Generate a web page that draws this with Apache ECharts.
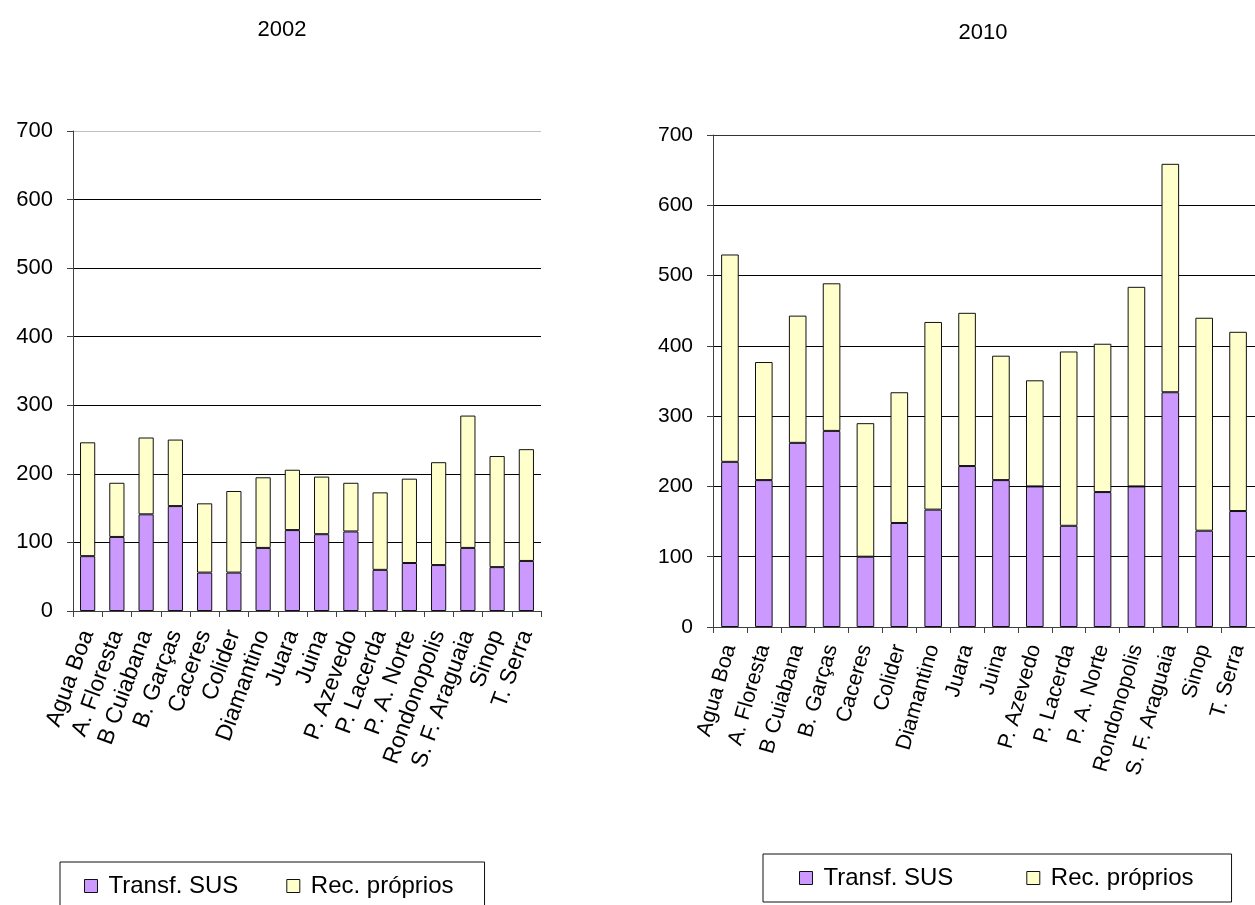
<!DOCTYPE html>
<html>
<head>
<meta charset="utf-8">
<title>Transf. SUS e Rec. próprios — 2002 e 2010</title>
<script src="https://cdn.jsdelivr.net/npm/echarts@6/dist/echarts.min.js"></script>
<style>
  html, body { margin: 0; padding: 0; background: #fff; }
  #chart { width: 1255px; height: 905px; }
</style>
</head>
<body>
<div id="chart"></div>
<script>
// Municípios (eixo de categorias)
const categories = ['Agua Boa', 'A. Floresta', 'B Cuiabana', 'B. Garças', 'Caceres', 'Colider',
  'Diamantino', 'Juara', 'Juina', 'P. Azevedo', 'P. Lacerda', 'P. A. Norte',
  'Rondonopolis', 'S. F. Araguaia', 'Sinop', 'T. Serra'];

// 2002
const sus2002 = [80, 108, 141, 153, 56, 56, 92, 118, 112, 116, 60, 70, 67, 92, 64, 73];
const proprios2002 = [166, 79, 112, 97, 101, 119, 103, 88, 84, 71, 113, 123, 150, 193, 162, 163];

// 2010
const sus2010 = [235, 209, 262, 279, 100, 148, 167, 229, 209, 200, 144, 192, 200, 334, 137, 165];
const proprios2010 = [295, 168, 181, 210, 190, 186, 267, 218, 177, 151, 248, 211, 284, 325, 303, 255];

const yTicks = { min: 0, max: 700, interval: 100 };
const seriesNames = ['Transf. SUS', 'Rec. próprios'];

const FONT = "'Liberation Sans', Arial, sans-serif";
const PURPLE = '#CC99FF';
const CREAM = '#FFFFCC';
const AXIS = '#404040';

function xAxisFor(gridIndex, rotate, fontSize, margin) {
  return {
    type: 'category',
    gridIndex,
    data: categories,
    axisLine: { lineStyle: { color: AXIS, width: 1 } },
    axisTick: { show: true, length: 6, lineStyle: { color: AXIS } },
    axisLabel: {
      interval: 0, rotate, margin,
      color: '#000', fontFamily: FONT, fontSize
    },
    splitLine: { show: false }
  };
}

function yAxisFor(gridIndex, topColor, fontSize) {
  const lineColors = [];
  for (let v = yTicks.min; v <= yTicks.max; v += yTicks.interval) {
    lineColors.push(v === yTicks.max ? topColor : '#000');
  }
  return {
    type: 'value',
    gridIndex,
    min: yTicks.min, max: yTicks.max, interval: yTicks.interval,
    axisLine: { show: true, lineStyle: { color: AXIS, width: 1 } },
    axisTick: { show: true, inside: false, length: 6, lineStyle: { color: AXIS } },
    axisLabel: { margin: 20, color: '#000', fontFamily: FONT, fontSize },
    splitLine: { show: true, lineStyle: { color: lineColors, width: 1 } }
  };
}

function barSeries(name, data, color, axisIndex, stack) {
  return {
    name, type: 'bar', stack,
    xAxisIndex: axisIndex, yAxisIndex: axisIndex,
    data, barWidth: '52%',
    itemStyle: { color, borderColor: '#111', borderWidth: 1 },
    emphasis: { disabled: true },
    animation: false
  };
}

function legendAt(left, top, padding, itemGap) {
  return {
    data: seriesNames,
    left, top, orient: 'horizontal',
    padding, itemGap,
    itemWidth: 13, itemHeight: 13,
    icon: 'rect',
    itemStyle: { borderColor: '#111', borderWidth: 1 },
    borderColor: '#111', borderWidth: 1,
    selectedMode: false,
    textStyle: { color: '#000', fontFamily: FONT, fontSize: 24, padding: [0, 0, 0, 6] }
  };
}

const chart = echarts.init(document.getElementById('chart'), null, { renderer: 'canvas' });
chart.setOption({
  backgroundColor: '#fff',
  animation: false,
  title: [
    { text: '2002', left: 277, top: 14, textAlign: 'center',
      textStyle: { fontFamily: FONT, fontSize: 22, fontWeight: 'normal', color: '#000' } },
    { text: '2010', left: 978, top: 17, textAlign: 'center',
      textStyle: { fontFamily: FONT, fontSize: 22, fontWeight: 'normal', color: '#000' } }
  ],
  grid: [
    { left: 73, top: 131, width: 468, height: 480, containLabel: false },
    { left: 713, top: 135, width: 548, height: 492, containLabel: false }
  ],
  xAxis: [xAxisFor(0, 70, 23, 20), xAxisFor(1, 74, 21.5, 18)],
  yAxis: [yAxisFor(0, '#c0c0c0', 22), yAxisFor(1, '#333', 21)],
  legend: [
    legendAt(60, 862, [12, 31, 12, 24], 48),
    legendAt(763, 854, [12, 38, 12, 36], 73)
  ],
  series: [
    barSeries(seriesNames[0], sus2002, PURPLE, 0, 'a2002'),
    barSeries(seriesNames[1], proprios2002, CREAM, 0, 'a2002'),
    barSeries(seriesNames[0], sus2010, PURPLE, 1, 'a2010'),
    barSeries(seriesNames[1], proprios2010, CREAM, 1, 'a2010')
  ]
});
</script>
</body>
</html>
